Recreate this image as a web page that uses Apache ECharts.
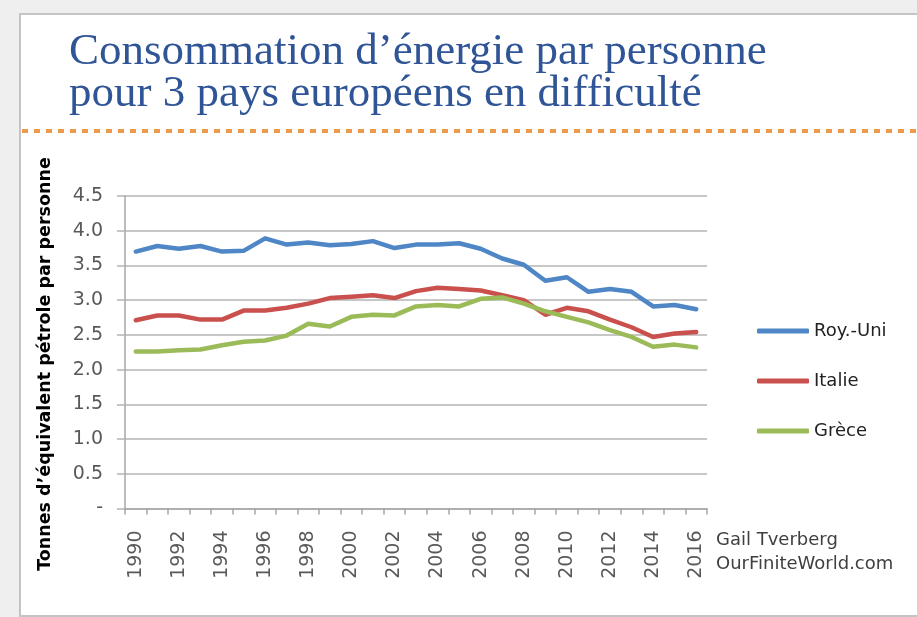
<!DOCTYPE html>
<html>
<head>
<meta charset="utf-8">
<script src="https://cdn.jsdelivr.net/npm/echarts@6/dist/echarts.min.js"></script>
<style>
  html, body { margin: 0; padding: 0; background: #efefef; }
  #chart { width: 917px; height: 617px; }
</style>
</head>
<body>
<div id="chart"></div>
<script>
// années (axe x)
const years = [
  "1990", "1991", "1992", "1993", "1994", "1995", "1996", "1997", "1998",
  "1999", "2000", "2001", "2002", "2003", "2004", "2005", "2006", "2007",
  "2008", "2009", "2010", "2011", "2012", "2013", "2014", "2015", "2016",
];
// tonnes d'équivalent pétrole par personne
const royUni = [
  3.70, 3.78, 3.74, 3.78, 3.70, 3.71, 3.89, 3.80, 3.83, 3.79, 3.81, 3.85, 3.75, 3.80,
  3.80, 3.82, 3.74, 3.60, 3.51, 3.28, 3.33, 3.12, 3.16, 3.12, 2.91, 2.93, 2.87,
];
const italie = [
  2.71, 2.78, 2.78, 2.72, 2.72, 2.85, 2.85, 2.89, 2.95, 3.03, 3.05, 3.07, 3.03, 3.13,
  3.18, 3.16, 3.14, 3.07, 3.00, 2.79, 2.89, 2.84, 2.72, 2.61, 2.47, 2.52, 2.54,
];
const grece = [
  2.26, 2.26, 2.28, 2.29, 2.35, 2.40, 2.42, 2.49, 2.66, 2.62, 2.76, 2.79, 2.78, 2.91,
  2.93, 2.91, 3.02, 3.04, 2.95, 2.84, 2.76, 2.68, 2.57, 2.47, 2.33, 2.36, 2.32,
];
const seriesNames = ["Roy.-Uni", "Italie", "Grèce"];
const seriesColors = ["#4F86C6", "#C9504D", "#9BBB59"];

const sans = "DejaVu Sans";
const myChart = echarts.init(document.getElementById("chart"));

let option = {
  backgroundColor: "#efefef",
  animation: false,
  color: seriesColors,
  title: {
    text: "Consommation d’énergie par personne\npour 3 pays européens en difficulté",
    left: 64,
    top: 26,
    textStyle: {
      fontFamily: "Liberation Serif",
      fontSize: 45,
      fontWeight: "normal",
      color: "#2F5597",
      lineHeight: 42,
    },
  },
  graphic: [
    // panneau blanc
    {
      type: "rect",
      z: -100,
      shape: { x: 20, y: 14, width: 1000, height: 602 },
      style: { fill: "#ffffff", stroke: "#c4c4c4", lineWidth: 2 },
    },
    // ligne pointillée orange sous le titre
    {
      type: "line",
      z: -90,
      shape: { x1: 22, y1: 131, x2: 917, y2: 131 },
      style: { stroke: "#EE9A4D", lineWidth: 4, lineDash: [6, 6] },
    },
    // titre de l'axe y
    {
      type: "text",
      x: 45,
      y: 364,
      rotation: Math.PI / 2,
      style: {
        text: "Tonnes d’équivalent pétrole par personne",
        fontFamily: sans,
        fontWeight: "bold",
        fontSize: 17.5,
        fill: "#000",
        align: "center",
        verticalAlign: "middle",
      },
    },
    // source
    {
      type: "text",
      x: 716,
      y: 528,
      style: {
        text: "Gail Tverberg\nOurFiniteWorld.com",
        fontFamily: sans,
        fontSize: 18,
        lineHeight: 24,
        fill: "#404040",
      },
    },
  ],
  legend: {
    orient: "vertical",
    left: 752,
    top: 317,
    itemWidth: 52,
    itemHeight: 5,
    itemGap: 32,
    icon: "roundRect",
    textStyle: { fontFamily: sans, fontSize: 18, color: "#222" },
    data: seriesNames,
  },
  grid: {
    left: 125,
    top: 196,
    right: 210,
    bottom: 108.5,
    containLabel: false,
  },
  xAxis: {
    type: "category",
    data: years,
    boundaryGap: true,
    axisLine: { lineStyle: { color: "#a6a6a6", width: 1.5 } },
    axisTick: { show: true, interval: 0, length: 6, lineStyle: { color: "#a6a6a6", width: 1.5 } },
    axisLabel: {
      interval: 1,
      rotate: 90,
      margin: 22,
      fontFamily: sans,
      fontSize: 19,
      color: "#595959",
    },
  },
  yAxis: {
    type: "value",
    min: 0,
    max: 4.5,
    interval: 0.5,
    axisLine: { show: true, lineStyle: { color: "#a6a6a6", width: 1.5 } },
    axisTick: { show: true, length: 8, lineStyle: { color: "#b4b4b4", width: 1.5 } },
    splitLine: { lineStyle: { color: "#b4b4b4", width: 1.5 } },
    axisLabel: {
      margin: 22,
      fontFamily: sans,
      fontSize: 19,
      color: "#595959",
      formatter: (v) => (v === 0 ? "-" : v.toFixed(1)),
    },
  },
  series: [royUni, italie, grece].map((values, i) => ({
    name: seriesNames[i],
    type: "line",
    data: values,
    showSymbol: false,
    symbol: "none",
    lineStyle: { width: 4.5, color: seriesColors[i], join: "round", cap: "round" },
    itemStyle: { color: seriesColors[i] },
  })),
};

option && myChart.setOption(option);
</script>
</body>
</html>
